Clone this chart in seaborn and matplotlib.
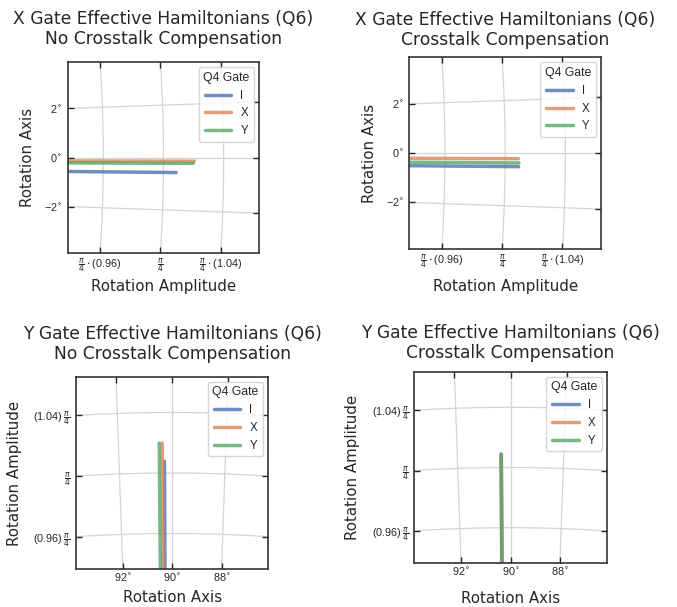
import numpy as np
import pandas as pd
import matplotlib
matplotlib.use("Agg")
import matplotlib.pyplot as plt
import seaborn as sns

# ---------------- data ----------------
QP = np.pi / 4
gates = ["I", "X", "Y"]

# X gate: rotation axis angle (deg) and amplitude (units of pi/4)
xg_nocomp_axis = [-0.57, -0.14, -0.22]
xg_nocomp_amp = [1.0085, 1.0205, 1.0198]
xg_comp_axis = [-0.51, -0.21, -0.37]
xg_comp_amp = [1.0090, 1.0088, 1.0092]

# Y gate
yg_nocomp_axis = [90.29, 90.37, 90.48]
yg_nocomp_amp = [1.0078, 1.0198, 1.0198]
yg_comp_axis = [90.35, 90.34, 90.355]
yg_comp_amp = [1.0088, 1.0088, 1.0088]

amp_ticks = [0.96, 1.0, 1.04]
xg_angle_ticks = [2, 0, -2]
xg_angle_labels = ["2$^{\\circ}$", "0$^{\\circ}$", "\u22122$^{\\circ}$"]
yg_angle_ticks = [92, 90, 88]
yg_angle_labels = ["92$^{\\circ}$", "90$^{\\circ}$", "88$^{\\circ}$"]
xg_amp_labels = ["$\\frac{\\pi}{4}\\cdot$(0.96)", "$\\frac{\\pi}{4}$", "$\\frac{\\pi}{4}\\cdot$(1.04)"]
yg_amp_labels = ["(0.96)$\\,\\frac{\\pi}{4}$", "$\\frac{\\pi}{4}$", "(1.04)$\\,\\frac{\\pi}{4}$"]

titles = [
    "X Gate Effective Hamiltonians (Q6)\nNo Crosstalk Compensation",
    "X Gate Effective Hamiltonians (Q6)\nCrosstalk Compensation",
    "Y Gate Effective Hamiltonians (Q6)\nNo Crosstalk Compensation",
    "Y Gate Effective Hamiltonians (Q6)\nCrosstalk Compensation",
]

# ---------------- style ----------------
sns.set_theme(style="ticks", palette="deep")
plt.rcParams["font.family"] = ["Liberation Sans", "DejaVu Sans"]
palette = dict(zip(gates, sns.color_palette("deep", 3)))
TEXT_C = "#262626"
GRID_C = "#d4d4d4"

W, H = 677, 607
fig = plt.figure(figsize=(W / 100, H / 100), dpi=100)

# layout in pixels: left, top, right, bottom
boxes = [(67.7, 62.0, 259.3, 253.0), (409.3, 57.3, 601.0, 249.0),
         (76.0, 376.7, 268.3, 569.3), (414.3, 371.7, 606.7, 563.3)]
title_y = [1.092, 1.066, 1.093, 1.070]
xlabel_y = [-0.176, -0.197, -0.145, -0.183]
ylabel_x = [-0.211, -0.210, -0.322, -0.322]

panels = [
    ("X", xg_nocomp_axis, xg_nocomp_amp),
    ("X", xg_comp_axis, xg_comp_amp),
    ("Y", yg_nocomp_axis, yg_nocomp_amp),
    ("Y", yg_comp_axis, yg_comp_amp),
]

half = 0.05
for i, (kind, axis_deg, amp) in enumerate(panels):
    l, t, r_, b = boxes[i]
    ax = fig.add_axes([l / W, 1 - b / H, (r_ - l) / W, (b - t) / H])
    if kind == "X":
        xlim = (QP - half, QP + half)
        ylim = (-half, half)
        ang_ticks, ang_labels, amp_labels = xg_angle_ticks, xg_angle_labels, xg_amp_labels
        center = 0.0
    else:
        xlim = (-half, half)
        ylim = (QP - half, QP + half)
        ang_ticks, ang_labels, amp_labels = yg_angle_ticks, yg_angle_labels, yg_amp_labels
        center = 90.0

    # curvilinear polar grid
    rr = np.linspace(0.5, 1.1, 100)
    for a in ang_ticks:
        th = np.radians(a)
        ax.plot(rr * np.cos(th), rr * np.sin(th), color=GRID_C, lw=0.9, zorder=0)
    tt = np.radians(np.linspace(center - 10, center + 10, 400))
    for a in amp_ticks:
        ax.plot(a * QP * np.cos(tt), a * QP * np.sin(tt), color=GRID_C, lw=0.9, zorder=0)

    # data: radial segments from origin to (angle, amplitude)
    rows = []
    for g, th_deg, a in zip(gates, axis_deg, amp):
        th = np.radians(th_deg)
        rows.append({"Q4 Gate": g, "x": 0.0, "y": 0.0})
        rows.append({"Q4 Gate": g, "x": a * QP * np.cos(th), "y": a * QP * np.sin(th)})
    df = pd.DataFrame(rows)
    sns.lineplot(data=df, x="x", y="y", hue="Q4 Gate", palette=palette,
                 estimator=None, sort=False, lw=2.5, alpha=0.8, ax=ax)

    ax.set_xlim(*xlim)
    ax.set_ylim(*ylim)

    # tick positions where grid curves meet the frame
    ang_r = np.radians(np.array(ang_ticks, dtype=float))
    amp_r = np.array(amp_ticks) * QP
    if kind == "X":
        left_pos = xlim[0] * np.tan(ang_r)
        right_pos = xlim[1] * np.tan(ang_r)
        bot_pos = np.sqrt(amp_r ** 2 - ylim[0] ** 2)
        top_pos = bot_pos
        left_lab, bot_lab = ang_labels, amp_labels
    else:
        bot_pos = ylim[0] / np.tan(ang_r)
        top_pos = ylim[1] / np.tan(ang_r)
        left_pos = np.sqrt(amp_r ** 2 - xlim[0] ** 2)
        right_pos = left_pos
        left_lab, bot_lab = amp_labels, ang_labels

    ax.set_yticks(left_pos, left_lab)
    ax.set_xticks(bot_pos, bot_lab)
    ax.tick_params(axis="y", direction="in", length=4, width=1, color=TEXT_C,
                   labelsize=7.8, labelcolor=TEXT_C, pad=4)
    ax.tick_params(axis="x", direction="in", length=4, width=1, color=TEXT_C,
                   labelsize=7.8, labelcolor=TEXT_C, pad=2)

    sr = ax.secondary_yaxis("right")
    sr.set_yticks(right_pos, [])
    sr.tick_params(direction="in", length=4, width=1, color=TEXT_C)
    for s in sr.spines.values():
        s.set_visible(False)
    st = ax.secondary_xaxis("top")
    st.set_xticks(top_pos, [])
    st.tick_params(direction="in", length=4, width=1, color=TEXT_C)
    for s in st.spines.values():
        s.set_visible(False)

    for s in ax.spines.values():
        s.set_visible(True)
        s.set_color("#333333")
        s.set_linewidth(1.2)

    if kind == "X":
        xl, yl = "Rotation Amplitude", "Rotation Axis"
    else:
        xl, yl = "Rotation Axis", "Rotation Amplitude"
    ax.set_xlabel(xl, fontsize=10.8, family="DejaVu Sans", color=TEXT_C)
    ax.set_ylabel(yl, fontsize=10.8, family="DejaVu Sans", color=TEXT_C)
    ax.xaxis.set_label_coords(0.5, xlabel_y[i])
    ax.yaxis.set_label_coords(ylabel_x[i], 0.5)
    ax.xaxis.label.set_va("center")
    ax.yaxis.label.set_va("center")

    ax.set_title(titles[i], fontsize=12.3, family="DejaVu Sans", color=TEXT_C,
                 y=title_y[i], pad=0, linespacing=1.15)

    leg = ax.legend(title="Q4 Gate", loc="upper right", fontsize=8.3,
                    title_fontsize=8.8, handlelength=2.3, frameon=True,
                    borderaxespad=0.45)
    leg.get_frame().set_edgecolor("#cccccc")

fig.savefig("out.png", dpi=100)
